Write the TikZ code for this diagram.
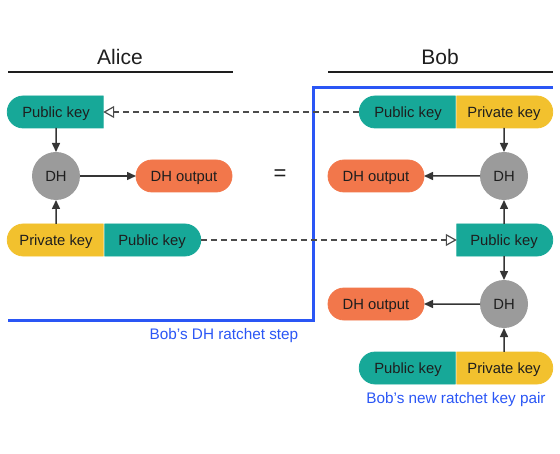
\documentclass[tikz,border=0pt]{standalone}
\usepackage{fontspec}
\setmainfont{Liberation Sans}
\usetikzlibrary{shapes.misc,arrows.meta}
\definecolor{kteal}{HTML}{17A898}
\definecolor{kyellow}{HTML}{F2C12E}
\definecolor{korange}{HTML}{F2774B}
\definecolor{kgray}{HTML}{9B9B9B}
\definecolor{kblue}{HTML}{2A56F5}
\definecolor{ktext}{HTML}{1E1E1E}
\tikzset{
  keybase/.style={rounded rectangle, minimum width=96bp, minimum height=32bp, inner sep=0pt, outer sep=0pt, line width=0.8bp, text=ktext, text height=12bp, text depth=1.6bp, font=\fontsize{14.8bp}{16bp}\selectfont},
  pubL/.style={keybase, fill=kteal, draw=kteal, rounded rectangle right arc=none},
  pubR/.style={keybase, fill=kteal, draw=kteal, rounded rectangle left arc=none},
  privL/.style={keybase, fill=kyellow, draw=kyellow, rounded rectangle right arc=none},
  privR/.style={keybase, fill=kyellow, draw=kyellow, rounded rectangle left arc=none},
  outbox/.style={keybase, fill=korange, draw=korange},
  dhnode/.style={circle, fill=kgray, minimum size=48bp, inner sep=0pt, outer sep=0pt, text=ktext, text height=12bp, text depth=1.6bp, font=\fontsize{14.8bp}{16bp}\selectfont},
  title/.style={font=\fontsize{21bp}{23bp}\selectfont, text=ktext},
  bluelabel/.style={font=\fontsize{15.3bp}{17bp}\selectfont, text=kblue},
  solidarrow/.style={draw=ktext!90, line width=1.5bp, -{Triangle[length=9bp,width=8bp]}},
  dasharrow/.style={draw=ktext!80, line width=1.4bp, dash pattern=on 6bp off 4bp, -{Triangle[open,length=11bp,width=12bp,line width=1.2bp]}},
}
\begin{document}
\begin{tikzpicture}[x=1bp,y=-1bp]
\useasboundingbox (0,0) rectangle (560,454);
% titles
\node[title] (alice) at (120,57) {Alice};
\node[title] (bob) at (440,57) {Bob};
\draw[line width=2bp, ktext] (8,72) -- (233,72);
\draw[line width=2bp, ktext] (328,72) -- (553,72);
% blue ratchet boundary
\draw[kblue, line width=3bp] (8,320) -- (313,320) -- (313,88) -- (553,88);
\node[bluelabel] (steplbl) at (224,336) {Bob’s DH ratchet step};
\node[bluelabel] (pairlbl) at (456,400) {Bob’s new ratchet key pair};
% Alice
\node[pubL] (apub) at (56,112) {Public key};
\node[dhnode] (adh) at (56,176) {DH};
\node[outbox] (aout) at (184,176) {DH output};
\node[privL] (apriv) at (56,240) {Private key};
\node[pubR] (apub2) at (152,240) {Public key};
\node[font=\fontsize{22bp}{24bp}\selectfont, text=ktext] (eq) at (280,175) {=};
% Bob
\node[pubL] (bpub1) at (408,112) {Public key};
\node[privR] (bpriv1) at (504,112) {Private key};
\node[dhnode] (bdh1) at (504,176) {DH};
\node[outbox] (bout1) at (376,176) {DH output};
\node[pubR] (bpub2) at (504,240) {Public key};
\node[dhnode] (bdh2) at (504,304) {DH};
\node[outbox] (bout2) at (376,304) {DH output};
\node[pubL] (bpub3) at (408,368) {Public key};
\node[privR] (bpriv3) at (504,368) {Private key};
% arrows
\draw[solidarrow] (apub) -- (adh);
\draw[solidarrow] (apriv) -- (adh);
\draw[solidarrow] (adh) -- (aout);
\draw[solidarrow] (bpriv1) -- (bdh1);
\draw[solidarrow] (bdh1) -- (bout1);
\draw[solidarrow] (bpub2) -- (bdh1);
\draw[solidarrow] (bpub2) -- (bdh2);
\draw[solidarrow] (bdh2) -- (bout2);
\draw[solidarrow] (bpriv3) -- (bdh2);
\draw[dasharrow] (bpub1.west) -- (apub.east);
\draw[dasharrow] (apub2.east) -- (bpub2.west);
\end{tikzpicture}
\end{document}
